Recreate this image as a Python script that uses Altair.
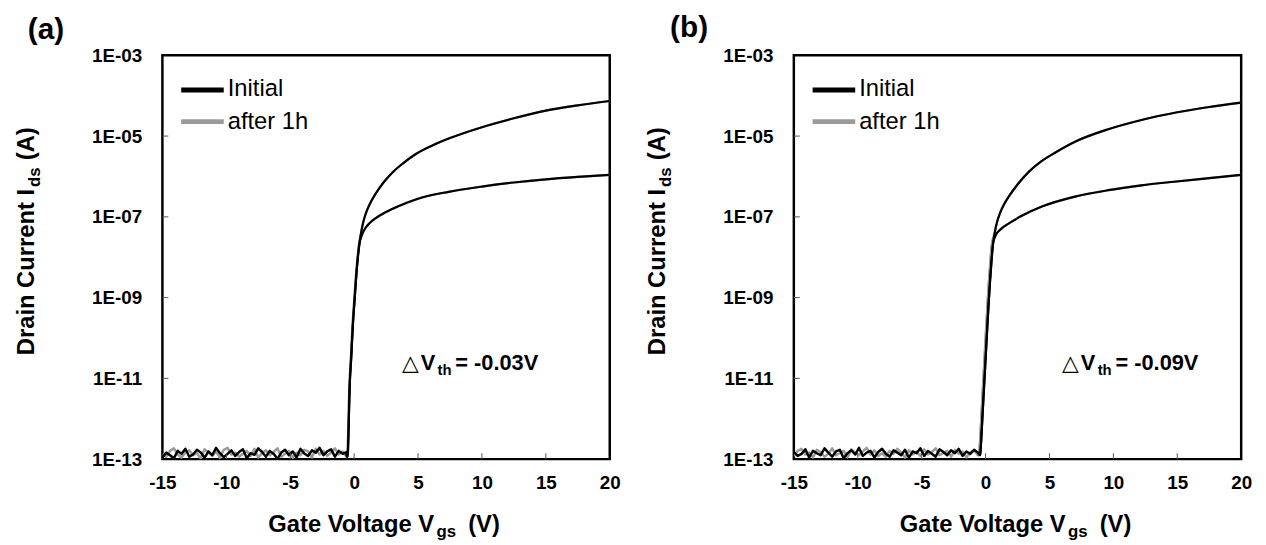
import altair as alt
import pandas as pd

# ---------------- data ----------------
X_TICKS = [-15, -10, -5, 0, 5, 10, 15, 20]
Y_TICKS = [1e-13, 1e-11, 1e-9, 1e-7, 1e-5, 1e-3]
X_MINOR = [-10, -5, 0, 5, 10, 15]
Y_MINOR = [1e-11, 1e-9, 1e-7, 1e-5]

# off-state floor, gate voltage grid (V)
FLOOR_V = [-15.0, -14.7, -14.4, -14.1, -13.8, -13.5, -13.2,
           -12.9, -12.6, -12.3, -12.0, -11.7, -11.4, -11.1,
           -10.8, -10.5, -10.2, -9.9, -9.6, -9.3, -9.0,
           -8.7, -8.4, -8.1, -7.8, -7.5, -7.2, -6.9,
           -6.6, -6.3, -6.0, -5.7, -5.4, -5.1, -4.8,
           -4.5, -4.2, -3.9, -3.6, -3.3, -3.0, -2.7,
           -2.4, -2.1, -1.8, -1.5, -1.2, -0.9, -0.6]

# floor currents in units of 1E-13 A
FLOOR_A_INIT = [1.10, 1.45, 1.25, 1.05, 1.60, 1.35, 1.80,
                1.15, 1.30, 1.70, 1.45, 1.08, 1.55, 1.25,
                1.90, 1.40, 1.12, 1.35, 1.65, 1.20, 1.50,
                1.75, 1.05, 1.40, 1.28, 1.85, 1.50, 1.15,
                1.60, 1.35, 1.02, 1.45, 1.70, 1.25, 1.55,
                1.10, 1.80, 1.38, 1.20, 1.65, 1.45, 1.90,
                1.25, 1.55, 1.75, 1.15, 1.60, 1.35, 1.50]
FLOOR_A_AFTER = [1.35, 1.15, 1.60, 1.85, 1.30, 1.10, 1.50,
                 1.65, 1.25, 1.40, 1.05, 1.75, 1.45, 1.20,
                 1.55, 1.08, 1.70, 1.90, 1.30, 1.45, 1.15,
                 1.35, 1.60, 1.20, 1.80, 1.10, 1.40, 1.65,
                 1.25, 1.50, 1.85, 1.15, 1.35, 1.60, 1.08,
                 1.45, 1.25, 1.70, 1.55, 1.10, 1.80, 1.30,
                 1.60, 1.20, 1.45, 1.85, 1.30, 1.55, 1.15]
FLOOR_B_INIT = [1.50, 1.20, 1.35, 1.75, 1.10, 1.60, 1.40,
                1.25, 1.85, 1.45, 1.15, 1.55, 1.70, 1.05,
                1.40, 1.65, 1.30, 1.90, 1.20, 1.45, 1.60,
                1.10, 1.50, 1.80, 1.35, 1.15, 1.65, 1.45,
                1.25, 1.70, 1.08, 1.55, 1.40, 1.85, 1.20,
                1.60, 1.35, 1.15, 1.75, 1.50, 1.25, 1.65,
                1.40, 1.80, 1.20, 1.55, 1.35, 1.70, 1.45]
FLOOR_B_AFTER = [1.20, 1.60, 1.80, 1.30, 1.45, 1.10, 1.70,
                 1.50, 1.15, 1.35, 1.85, 1.25, 1.40, 1.60,
                 1.10, 1.75, 1.45, 1.25, 1.55, 1.90, 1.30,
                 1.65, 1.20, 1.40, 1.15, 1.60, 1.35, 1.80,
                 1.45, 1.10, 1.65, 1.30, 1.55, 1.20, 1.75,
                 1.30, 1.50, 1.85, 1.25, 1.40, 1.60, 1.15,
                 1.70, 1.35, 1.55, 1.10, 1.45, 1.65, 1.25]

# subthreshold rise: gate voltage (V) and log10 of drain current
A_RISE_V_INIT = [-0.55, -0.49, -0.42, -0.36, -0.22, -0.10, 0.05, 0.16, 0.28, 0.41]
A_RISE_V_AFTER = [-0.58, -0.52, -0.45, -0.39, -0.25, -0.13, 0.02, 0.13, 0.25, 0.38]
A_RISE_LOG = [-12.95, -12.85, -12.1, -11.33, -10.45, -9.7, -9.0, -8.5, -8.05, -7.68]

B_RISE_V_INIT = [-0.42, -0.38, -0.30, -0.20, -0.05, 0.10, 0.25, 0.35, 0.47, 0.59]
B_RISE_V_AFTER = [-0.51, -0.47, -0.39, -0.29, -0.14, 0.01, 0.16, 0.26, 0.38, 0.50]
B_RISE_LOG = [-12.9, -12.75, -12.3, -11.7, -10.83, -9.95, -9.1, -8.6, -8.08, -7.66]

# on-state branches: gate voltage (V) and log10 of drain current
A_HI_V = [0.55, 0.7, 0.9, 1.2, 1.7, 2.3, 3.0, 3.8, 4.8, 6.0, 7.5, 10, 12.5, 15, 17.5, 20]
A_HI_LOG = [-7.38, -7.15, -6.93, -6.7, -6.42, -6.15, -5.9, -5.68, -5.45, -5.25, -5.05,
            -4.78, -4.56, -4.37, -4.24, -4.13]
A_LO_V = [0.55, 0.7, 0.9, 1.2, 1.7, 2.5, 3.5, 5, 7.4, 10, 12.5, 15, 17.5, 20]
A_LO_LOG = [-7.5, -7.38, -7.27, -7.16, -7.03, -6.88, -6.73, -6.55, -6.38, -6.25, -6.15,
            -6.07, -6.01, -5.96]

B_HI_V = [0.73, 0.9, 1.1, 1.4, 1.88, 2.5, 3.4, 4.3, 5.5, 7.0, 9.6, 12.2, 15, 17.5, 20]
B_HI_LOG = [-7.37, -7.13, -6.93, -6.72, -6.47, -6.2, -5.88, -5.64, -5.4, -5.14, -4.83,
            -4.6, -4.41, -4.28, -4.17]
B_LO_V = [0.73, 0.9, 1.1, 1.4, 1.88, 2.8, 4.46, 7, 9.6, 12.2, 14.75, 17.5, 20]
B_LO_LOG = [-7.5, -7.4, -7.33, -7.25, -7.15, -6.98, -6.74, -6.5, -6.34, -6.22, -6.13,
            -6.04, -5.96]

LEGEND = ["Initial", "after 1h"]
DELTA_A = "= -0.03V"
DELTA_B = "= -0.09V"

# ---------------- styling ----------------
W, H = 452, 408
FONT = "Liberation Sans"
BLACK = "#000000"
GRAY = "#9a9a9a"


def build_tables(floor, rise_v, rise_log, hi_v, hi_log, lo_v, lo_log):
    floor_rows, curve_rows = [], []
    for v, m in zip(FLOOR_V, floor):
        floor_rows.append({"v": v, "i": m * 1e-13})
    floor_rows.append({"v": rise_v[0], "i": 10 ** rise_log[0]})
    for branch, bv, bl in (("high", hi_v, hi_log), ("low", lo_v, lo_log)):
        curve_rows.append({"v": FLOOR_V[-1], "i": floor[-1] * 1e-13, "branch": branch})
        for v, lg in zip(rise_v, rise_log):
            curve_rows.append({"v": v, "i": 10 ** lg, "branch": branch})
        for v, lg in zip(bv, bl):
            curve_rows.append({"v": v, "i": 10 ** lg, "branch": branch})
    return pd.DataFrame(floor_rows), pd.DataFrame(curve_rows)


x_enc = alt.X("v:Q",
              scale=alt.Scale(domain=[-15, 20], nice=False, zero=False),
              axis=alt.Axis(values=X_TICKS, title=None, ticks=False, tickSize=0,
                            domain=False, grid=False, labelPadding=15,
                            labelFont=FONT, labelFontSize=19, labelFontWeight="bold",
                            labelColor="black", labelFlush=False,
                            labelExpr="datum.value < 0 ? '-' + abs(datum.value) : '' + datum.value"))
y_enc = alt.Y("i:Q",
              scale=alt.Scale(type="log", domain=[1e-13, 1e-3], nice=False),
              axis=alt.Axis(values=Y_TICKS, title=None, ticks=False, tickSize=0,
                            domain=False, grid=False, labelPadding=21,
                            labelFont=FONT, labelFontSize=19, labelFontWeight="bold",
                            labelColor="black", labelFlush=False,
                            labelExpr="'1E-' + (round(-log(datum.value)/LN10) < 10 ? '0' : '') + round(-log(datum.value)/LN10)"))


def txt(s, x, y, size, weight="bold", angle=0, baseline="alphabetic", font=FONT, align="left"):
    return alt.Chart(pd.DataFrame({"t": [s]})).mark_text(
        font=font, fontSize=size, fontWeight=weight, angle=angle, align=align,
        baseline=baseline, color="black"
    ).encode(x=alt.value(x), y=alt.value(y), text="t:N")


def line_layers(tables, color):
    floor_df, curve_df = tables
    fl = alt.Chart(floor_df).mark_line(color=color, strokeWidth=2.5, clip=True,
                                       strokeJoin="round").encode(x=x_enc, y=y_enc)
    cv = alt.Chart(curve_df).mark_line(color=color, strokeWidth=2.2, clip=True,
                                       interpolate="monotone").encode(
        x=x_enc, y=y_enc, detail="branch:N")
    return [fl, cv]


def panel(init_t, after_t, label, label_xy, delta_text, dx):
    yt = alt.Chart(pd.DataFrame({"i": Y_MINOR})).mark_rule(color="#555", strokeWidth=1).encode(
        y=alt.Y("i:Q"), x=alt.value(0), x2=alt.value(6))
    xt = alt.Chart(pd.DataFrame({"v": X_MINOR})).mark_rule(color="#555", strokeWidth=1).encode(
        x=alt.X("v:Q"), y=alt.value(H - 6), y2=alt.value(H))
    leg1 = alt.Chart(pd.DataFrame({"s": [LEGEND[0]]})).mark_rule(color=BLACK, strokeWidth=5).encode(
        x=alt.value(19), x2=alt.value(62), y=alt.value(35))
    leg2 = alt.Chart(pd.DataFrame({"s": [LEGEND[1]]})).mark_rule(color=GRAY, strokeWidth=5).encode(
        x=alt.value(19), x2=alt.value(62), y=alt.value(67))
    layers = line_layers(after_t, GRAY) + line_layers(init_t, BLACK) + [
        yt, xt, leg1, leg2,
        txt(LEGEND[0], 66, 41, 24, weight="normal"),
        txt(LEGEND[1], 66, 74, 24, weight="normal"),
        txt(label, label_xy[0], label_xy[1], 30),
        # y title
        txt("Drain Current I", -130, 303, 24, angle=270),
        txt("ds", -124, 133, 17, angle=270),
        txt("(A)", -130, 106, 24, angle=270),
        # x title
        txt("Gate Voltage V", 107, 482, 24),
        txt("gs", 277, 487, 17),
        txt("(V)", 309, 482, 24),
        # delta Vth annotation
        txt("\u25b3", dx, 318, 22, weight="normal", font="DejaVu Sans"),
        txt("V", dx + 19, 318, 22),
        txt("th", dx + 36, 323, 15),
        txt(delta_text, dx + 54, 318, 22)]
    return alt.layer(*layers).properties(width=W, height=H)


a_init = build_tables(FLOOR_A_INIT, A_RISE_V_INIT, A_RISE_LOG, A_HI_V, A_HI_LOG, A_LO_V, A_LO_LOG)
a_after = build_tables(FLOOR_A_AFTER, A_RISE_V_AFTER, A_RISE_LOG, A_HI_V, A_HI_LOG, A_LO_V, A_LO_LOG)
b_init = build_tables(FLOOR_B_INIT, B_RISE_V_INIT, B_RISE_LOG, B_HI_V, B_HI_LOG, B_LO_V, B_LO_LOG)
b_after = build_tables(FLOOR_B_AFTER, B_RISE_V_AFTER, B_RISE_LOG, B_HI_V, B_HI_LOG, B_LO_V, B_LO_LOG)

pa = panel(a_init, a_after, "(a)", (-136, -16), DELTA_A, 242)
pb = panel(b_init, b_after, "(b)", (-125, -19), DELTA_B, 271)

chart = alt.hconcat(pa, pb, spacing=186, bounds="flush").properties(
    padding={"left": 5, "top": 0, "right": 5, "bottom": 5},
    background="white",
).configure_view(stroke="black", strokeWidth=2.5)

chart.save("out.html", embed_options={"renderer": "svg", "actions": False})
